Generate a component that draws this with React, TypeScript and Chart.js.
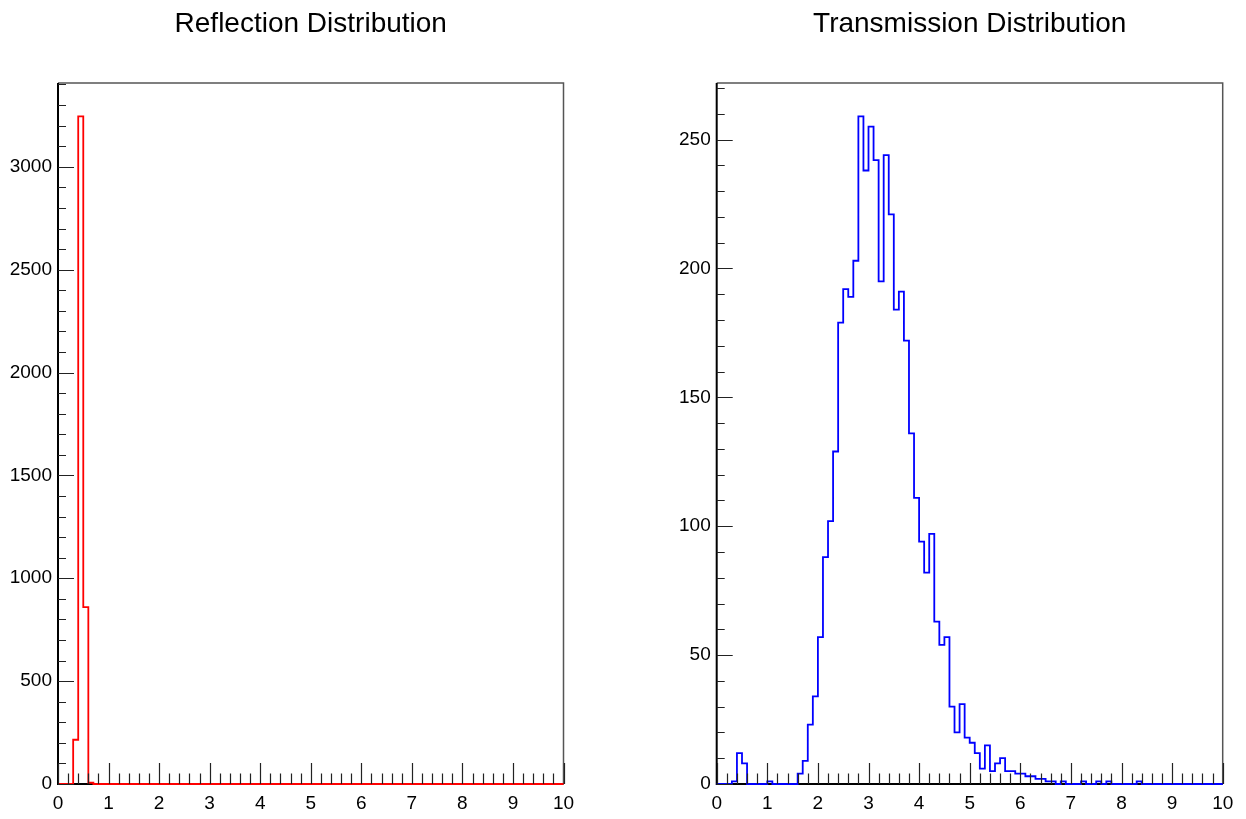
import React, { useEffect, useRef } from 'react';
import { Chart, registerables } from 'chart.js';

Chart.register(...registerables);

// ---- data ----
const X_MIN = 0;
const X_MAX = 10;
const BIN_WIDTH = 0.1;
const xTickValues = [0, 1, 2, 3, 4, 5, 6, 7, 8, 9, 10];

const reflectionCounts = [
  0, 0, 0, 215, 3245, 860, 6, 0, 0, 0,
  0, 0, 0, 0, 0, 0, 0, 0, 0, 0,
  0, 0, 0, 0, 0, 0, 0, 0, 0, 0,
  0, 0, 0, 0, 0, 0, 0, 0, 0, 0,
  0, 0, 0, 0, 0, 0, 0, 0, 0, 0,
  0, 0, 0, 0, 0, 0, 0, 0, 0, 0,
  0, 0, 0, 0, 0, 0, 0, 0, 0, 0,
  0, 0, 0, 0, 0, 0, 0, 0, 0, 0,
  0, 0, 0, 0, 0, 0, 0, 0, 0, 0,
  0, 0, 0, 0, 0, 0, 0, 0, 0, 0,
];

const transmissionCounts = [
  0, 0, 0, 1, 12, 8, 0, 0, 0, 0,
  1, 0, 0, 0, 0, 0, 4, 9, 23, 34,
  57, 88, 102, 129, 179, 192, 189, 203, 259, 238,
  255, 242, 195, 244, 221, 184, 191, 172, 136, 111,
  94, 82, 97, 63, 54, 57, 30, 20, 31, 18,
  16, 12, 6, 15, 5, 8, 10, 5, 5, 4,
  4, 3, 3, 2, 2, 1, 1, 0, 1, 0,
  0, 0, 1, 0, 0, 1, 0, 1, 0, 0,
  0, 0, 0, 1, 0, 0, 0, 0, 0, 0,
  0, 0, 0, 0, 0, 0, 0, 0, 0, 0,
];

const reflectionYTicks = [0, 500, 1000, 1500, 2000, 2500, 3000];
const transmissionYTicks = [0, 50, 100, 150, 200, 250];

const FONT_FAMILY = '"Liberation Sans", Arial, Helvetica, sans-serif';

function toSteps(counts: number[]) {
  const pts = counts.map((c, i) => ({ x: X_MIN + i * BIN_WIDTH, y: c }));
  pts.push({ x: X_MAX, y: counts[counts.length - 1] });
  return pts;
}

const rootFrame = {
  id: 'rootFrame',
  beforeDatasetsDraw(chart: any) {
    const { ctx, chartArea: a } = chart;
    ctx.save();
    ctx.strokeStyle = '#555';
    ctx.lineWidth = 1.5;
    ctx.beginPath();
    ctx.moveTo(a.left, a.top);
    ctx.lineTo(a.right, a.top);
    ctx.lineTo(a.right, a.bottom);
    ctx.stroke();
    ctx.strokeStyle = '#000';
    ctx.lineWidth = 2;
    ctx.beginPath();
    ctx.moveTo(a.left, a.top);
    ctx.lineTo(a.left, a.bottom);
    ctx.lineTo(a.right, a.bottom);
    ctx.stroke();
    ctx.restore();
  },
  afterDatasetsDraw(chart: any, _args: any, opts: any) {
    const { ctx, chartArea: a } = chart;
    const xs = chart.scales.x;
    const ys = chart.scales.y;
    ctx.save();
    ctx.strokeStyle = '#222';
    ctx.lineWidth = 1.2;
    ctx.beginPath();
    // x ticks (inside, pointing up)
    const xMajorLen = 21;
    const xMinorLen = 10.5;
    for (let k = 0; k <= 50; k++) {
      const v = k * 0.2;
      const px = Math.round(xs.getPixelForValue(v)) + 0.5;
      const len = k % 5 === 0 ? xMajorLen : xMinorLen;
      ctx.moveTo(px, a.bottom);
      ctx.lineTo(px, a.bottom - len);
    }
    // y ticks (inside, pointing right)
    const yMajorLen = 16;
    const yMinorLen = 8;
    const maxY = ys.max;
    for (let k = 0; k * opts.yMinor <= maxY + 1e-9; k++) {
      const v = k * opts.yMinor;
      const py = Math.round(ys.getPixelForValue(v)) + 0.5;
      const len = k % opts.yRatio === 0 ? yMajorLen : yMinorLen;
      ctx.moveTo(a.left, py);
      ctx.lineTo(a.left + len, py);
    }
    ctx.stroke();
    ctx.restore();
  },
};

type HistProps = {
  counts: number[];
  color: string;
  title: string;
  yTicks: number[];
  yMinor: number;
  yRatio: number;
  yAxisWidth: number;
  padRight: number;
  left: number;
};

function HistChart(props: HistProps) {
  const ref = useRef<HTMLCanvasElement>(null);
  useEffect(() => {
    const ymax = Math.max(...props.counts) * 1.05;
    const tickFont = { family: FONT_FAMILY, size: 19 };
    const chart = new Chart(ref.current as HTMLCanvasElement, {
      type: 'line',
      data: {
        datasets: [
          {
            label: props.title,
            data: toSteps(props.counts),
            borderColor: props.color,
            borderWidth: 1.8,
            stepped: true,
            pointRadius: 0,
            fill: false,
            tension: 0,
            clip: false as any,
          },
        ],
      },
      options: {
        animation: false,
        responsive: false,
        devicePixelRatio: 1,
        layout: { padding: { left: 0, right: props.padRight, top: 0, bottom: 0 } },
        plugins: {
          legend: { display: false },
          tooltip: { enabled: false },
          title: {
            display: true,
            text: props.title,
            fullSize: false,
            color: '#000',
            font: { family: FONT_FAMILY, size: 28, weight: 'normal' as any, lineHeight: 1.2 },
            padding: { top: 7, bottom: 42.4 },
          },
          rootFrame: { yMinor: props.yMinor, yRatio: props.yRatio },
        } as any,
        scales: {
          x: {
            type: 'linear',
            min: X_MIN,
            max: X_MAX,
            grid: { display: false, drawTicks: false },
            border: { display: false },
            ticks: {
              color: '#000',
              font: tickFont,
              padding: 8,
              autoSkip: false,
              maxRotation: 0,
              callback: (v: any) => String(v),
            },
            afterBuildTicks: (s: any) => {
              s.ticks = xTickValues.map((v) => ({ value: v }));
            },
            afterFit: (s: any) => {
              s.height = 35;
            },
          },
          y: {
            type: 'linear',
            min: 0,
            max: ymax,
            grid: { display: false, drawTicks: false },
            border: { display: false },
            ticks: {
              color: '#000',
              font: tickFont,
              padding: 6,
              autoSkip: false,
              callback: (v: any) => String(v),
            },
            afterBuildTicks: (s: any) => {
              s.ticks = props.yTicks.map((v) => ({ value: v }));
            },
            afterFit: (s: any) => {
              s.width = props.yAxisWidth;
            },
          },
        },
      },
      plugins: [rootFrame as any],
    });
    return () => chart.destroy();
  }, []);
  return (
    <canvas
      ref={ref}
      width={623}
      height={819}
      style={{ position: 'absolute', left: props.left, top: 0, width: 623, height: 819 }}
    />
  );
}

export default function App() {
  return (
    <div style={{ position: 'absolute', left: 0, top: 0, width: 1246, height: 819, background: '#fff', overflow: 'hidden' }}>
      <HistChart
        counts={reflectionCounts}
        color="#ff0000"
        title="Reflection Distribution"
        yTicks={reflectionYTicks}
        yMinor={100}
        yRatio={5}
        yAxisWidth={58}
        padRight={59.5}
        left={0}
      />
      <HistChart
        counts={transmissionCounts}
        color="#0000ff"
        title="Transmission Distribution"
        yTicks={transmissionYTicks}
        yMinor={10}
        yRatio={5}
        yAxisWidth={93.7}
        padRight={23.3}
        left={623}
      />
    </div>
  );
}
